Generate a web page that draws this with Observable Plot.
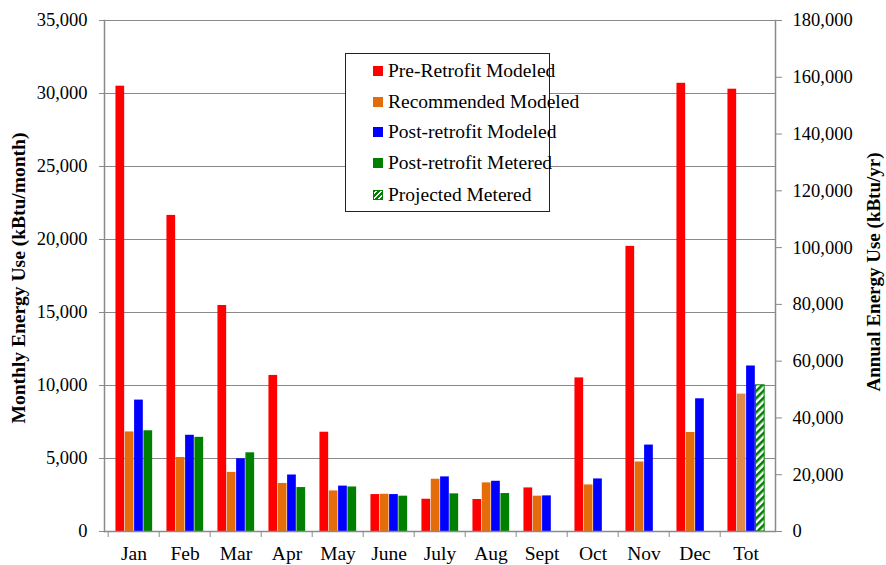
<!DOCTYPE html>
<html>
<head>
<meta charset="utf-8">
<script src="https://cdn.jsdelivr.net/npm/d3@7"></script>
<script src="https://cdn.jsdelivr.net/npm/@observablehq/plot@0.6"></script>
<style>
  html, body { margin: 0; padding: 0; background: #fff; }
  #wrap { position: relative; width: 886px; height: 565px; font-family: 'Liberation Serif', 'Times New Roman', serif; }
  #legend { position: absolute; left: 345px; top: 53px; width: 205px; height: 159px; border: 1px solid #222; background: #fff; box-sizing: border-box; }
  .item { position: absolute; left: 27px; height: 22px; display: flex; align-items: center; font-size: 19.5px; color: #000; white-space: nowrap; }
  .sw { width: 10px; height: 10px; margin-right: 5px; box-sizing: border-box; }
</style>
</head>
<body>
<svg width="0" height="0" style="position:absolute">
  <defs>
    <pattern id="hatch" patternUnits="userSpaceOnUse" width="5" height="5" patternTransform="rotate(45)">
      <rect width="5" height="5" fill="#fff"></rect>
      <rect width="2.6" height="5" fill="#008000"></rect>
    </pattern>
  </defs>
</svg>
<div id="wrap"></div>
<script>
// ---- data ----
const months = ["Jan","Feb","Mar","Apr","May","June","July","Aug","Sept","Oct","Nov","Dec","Tot"];
const seriesNames = ["Pre-Retrofit Modeled","Recommended Modeled","Post-retrofit Modeled","Post-retrofit Metered","Projected Metered"];
// monthly values (kBtu/month), Jan..Dec
const preRetrofit   = [30500, 21650, 15480, 10690, 6800, 2530, 2210, 2190, 2985, 10520, 19530, 30700];
const recommended   = [6820, 5070, 4050, 3290, 2780, 2550, 3580, 3330, 2420, 3190, 4760, 6780];
const postModeled   = [9000, 6590, 4980, 3870, 3110, 2530, 3740, 3440, 2440, 3600, 5920, 9090];
const postMetered   = [6900, 6450, 5390, 3010, 3050, 2420, 2580, 2600, null, null, null, null];
// annual totals (kBtu/yr), one per series
const annualTotals  = [155800, 48400, 58300, null, 51500];
const leftTicks   = [0, 5000, 10000, 15000, 20000, 25000, 30000, 35000];
const rightTicks  = [0, 20000, 40000, 60000, 80000, 100000, 120000, 140000, 160000, 180000];
const leftMax = 35000, rightMax = 180000;
const seriesColors = ["#FF0000", "#E46C0A", "#0000FF", "#008000", "url(#hatch)"];
const totOrange = "#DE8A4A";

// ---- table ----
const monthly = [preRetrofit, recommended, postModeled, postMetered];
const rows = [];
monthly.forEach((arr, si) => arr.forEach((v, mi) => {
  if (v != null) rows.push({month: months[mi], series: seriesNames[si], value: v});
}));
annualTotals.forEach((v, si) => {
  if (v != null) rows.push({month: "Tot", series: seriesNames[si], value: v * leftMax / rightMax});
});

const W = 886, H = 565;
const mL = 104, mR = 111, mT = 20, mB = 34;
const step = (W - mL - mR) / months.length;
const bw = 9.33;
const off = (step - 4 * bw) / 2 + 0.3;
const fmt = d3.format(",");
const font = "'Liberation Serif', 'Times New Roman', serif";

const barMarks = seriesNames.map((name, si) => {
  const slot = Math.min(si, 3);
  return Plot.barY(rows.filter(r => r.series === name), {
    x: "month", y: "value",
    fill: si === 1 ? (d => d.month === "Tot" ? totOrange : seriesColors[1]) : (() => seriesColors[si]),
    stroke: si === 4 ? "#008000" : null, strokeWidth: si === 4 ? 1 : null,
    insetLeft: off + slot * bw,
    insetRight: step - off - (slot + 1) * bw
  });
});

const chart = Plot.plot({
  width: W, height: H,
  marginLeft: mL, marginRight: mR, marginTop: mT, marginBottom: mB,
  style: {fontFamily: font, fontSize: "18px", color: "#000", background: "#fff"},
  x: {domain: months, padding: 0, axis: null},
  y: {domain: [0, leftMax], nice: false, axis: null},
  color: {type: "identity"},
  marks: [
    Plot.ruleY(leftTicks, {stroke: "#8a8a8a", strokeWidth: 1.2}),
    ...barMarks,
    Plot.frame({anchor: "left", stroke: "#8a8a8a", strokeWidth: 1.5}),
    Plot.frame({anchor: "right", stroke: "#8a8a8a", strokeWidth: 1.5}),
    Plot.ruleY([0], {stroke: "#8a8a8a", strokeWidth: 1.5}),
    Plot.axisY({anchor: "left", ticks: leftTicks, tickFormat: fmt, tickSize: 5, tickPadding: 12, fontSize: 18.5, label: null, stroke: "#8a8a8a"}),
    Plot.axisY({anchor: "right", ticks: rightTicks.map(v => v * leftMax / rightMax),
      tickFormat: d => fmt(Math.round(d * rightMax / leftMax / 1000) * 1000), tickSize: 6, tickPadding: 11, fontSize: 18.5, label: null, stroke: "#8a8a8a"}),
    Plot.axisX({ticks: months, tickSize: 6, text: null, dx: -step / 2, stroke: "#8a8a8a", label: null}),
    Plot.axisX({ticks: months, tickSize: 0, tickPadding: 15, fontSize: 19.5, label: null}),
    Plot.text(["Monthly Energy Use (kBtu/month)"], {frameAnchor: "left", textAnchor: "middle", dx: -86, dy: 2, rotate: -90, text: d => d, fontWeight: "bold", fontSize: 19.5}),
    Plot.text(["Annual Energy Use (kBtu/yr)"], {frameAnchor: "right", textAnchor: "middle", dx: 98, dy: -4, rotate: -90, text: d => d, fontWeight: "bold", fontSize: 19})
  ]
});

const wrap = document.getElementById("wrap");
wrap.appendChild(chart);

// legend (HTML overlay)
const legend = document.createElement("div");
legend.id = "legend";
const rowY = [6, 37, 67, 98, 130];
seriesNames.forEach((name, i) => {
  const it = document.createElement("div");
  it.className = "item";
  it.style.top = rowY[i] + "px";
  const sw = document.createElement("div");
  sw.className = "sw";
  if (i === 4) {
    sw.style.background = "repeating-linear-gradient(-45deg, #008000 0 2px, #fff 2px 3.5px)";
    sw.style.border = "1px solid #008000";
  } else {
    sw.style.background = seriesColors[i];
  }
  const tx = document.createElement("span");
  tx.textContent = name;
  it.appendChild(sw); it.appendChild(tx);
  legend.appendChild(it);
});
wrap.appendChild(legend);
</script>
</body>
</html>
